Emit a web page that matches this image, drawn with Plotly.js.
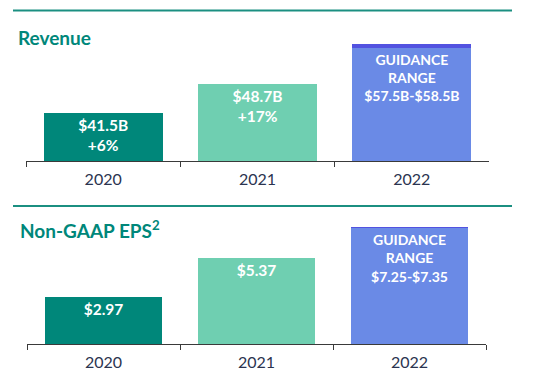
<!DOCTYPE html>
<html>
<head>
<meta charset="utf-8">
<script src="https://cdn.plot.ly/plotly-3.0.1.min.js"></script>
<style>
html,body{margin:0;padding:0;background:#fff;}
#chart{width:535px;height:378px;}
</style>
</head>
<body>
<div id="chart"></div>
<script>
// ---- data ----
const years = ['2020', '2021', '2022'];
const revenueLow = [41.5, 48.7, 57.5];   // $B (2022 = guidance low)
const revenueHigh = [41.5, 48.7, 58.5];  // $B (2022 = guidance high)
const revenueLabels = ['$41.5B<br>+6%', '$48.7B<br>+17%', 'GUIDANCE<br>RANGE<br>$57.5B-$58.5B'];
const epsLow = [2.97, 5.37, 7.25];
const epsHigh = [2.97, 5.37, 7.35];
const epsLabels = ['$2.97', '$5.37', 'GUIDANCE<br>RANGE<br>$7.25-$7.35'];
const barColors = ['#00877a', '#6fcfb1', '#6a8ae6'];
const bandColor = '#5252e0';

const FONT = 'Lato, "Open Sans", sans-serif';
const labelSizes = [15.5, 15.5, 14];

function mainTrace(vals, labels, xa, ya) {
  return {
    type: 'bar', x: years, y: vals, xaxis: xa, yaxis: ya,
    marker: {color: barColors, line: {width: 0}},
    text: labels, textposition: 'inside', insidetextanchor: 'end',
    textangle: 0,
    textfont: {color: '#ffffff', size: labelSizes, family: FONT, weight: 700},
    hoverinfo: 'skip', showlegend: false, cliponaxis: true
  };
}
function bandTrace(low, high, xa, ya) {
  return {
    type: 'bar', x: [years[2]], y: [high[2] - low[2]], xaxis: xa, yaxis: ya,
    marker: {color: bandColor, line: {width: 0}},
    textposition: 'none',
    hoverinfo: 'skip', showlegend: false
  };
}

const data = [
  mainTrace(revenueLow, revenueLabels, 'x', 'y'),
  bandTrace(revenueLow, revenueHigh, 'x', 'y'),
  mainTrace(epsLow, epsLabels, 'x2', 'y2'),
  bandTrace(epsLow, epsHigh, 'x2', 'y2')
];

const xCommon = {
  type: 'category', showline: true, linecolor: '#3a3a3a', linewidth: 1,
  ticks: 'outside', tickson: 'boundaries', ticklen: 5, tickcolor: '#3a3a3a',
  ticklabelstandoff: 4,
  tickfont: {family: FONT, size: 16, color: '#2b3450'},
  showgrid: false, zeroline: false, fixedrange: true, range: [-0.5, 2.5]
};

const H = 378, W = 535;
const layout = {
  width: W, height: H,
  margin: {l: 0, r: 0, t: 0, b: 0},
  paper_bgcolor: '#ffffff', plot_bgcolor: '#ffffff',
  barmode: 'stack', bargap: 0.229,
  font: {family: FONT},
  xaxis: Object.assign({}, xCommon, {domain: [26 / W, 489 / W], anchor: 'y'}),
  yaxis: {domain: [1 - 161 / H, 1 - 30 / H], range: [29.68, 61.85], visible: false, fixedrange: true},
  xaxis2: Object.assign({}, xCommon, {domain: [27 / W, 486 / W], anchor: 'y2'}),
  yaxis2: {domain: [1 - 344 / H, 1 - 215 / H], range: [0, 8.08], visible: false, fixedrange: true},
  shapes: [
    {type: 'line', xref: 'paper', yref: 'paper', x0: 13 / W, x1: 512 / W, y0: 1 - 10.5 / H, y1: 1 - 10.5 / H,
      line: {color: '#1b8f81', width: 2}},
    {type: 'line', xref: 'paper', yref: 'paper', x0: 13 / W, x1: 512 / W, y0: 1 - 206 / H, y1: 1 - 206 / H,
      line: {color: '#1b8f81', width: 2}}
  ],
  annotations: [
    {text: '<b>Revenue</b>', xref: 'paper', yref: 'paper', x: 16 / W, y: 1 - 37.5 / H,
      xanchor: 'left', yanchor: 'middle', showarrow: false,
      font: {family: FONT, size: 19, color: '#00877a'}},
    {text: '<b>Non-GAAP EPS<sup>2</sup></b>', xref: 'paper', yref: 'paper', x: 18 / W, y: 1 - 229 / H,
      xanchor: 'left', yanchor: 'middle', showarrow: false,
      font: {family: FONT, size: 19, color: '#00877a'}}
  ]
};

Plotly.newPlot('chart', data, layout, {displayModeBar: false, staticPlot: true});
</script>
</body>
</html>
